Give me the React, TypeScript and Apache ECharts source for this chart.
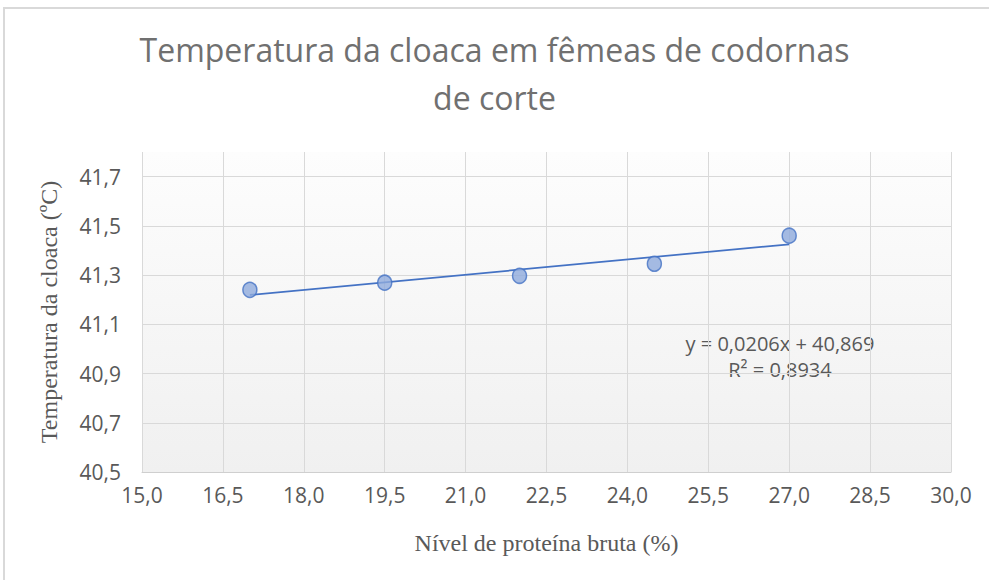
import React, { useEffect, useRef } from "react";
import * as echarts from "echarts";

const titleLines = ["Temperatura da cloaca em fêmeas de codornas", "de corte"];
const xName = "Nível de proteína bruta (%)";
const yName = "Temperatura da cloaca (ºC)";
const proteinLevels = [17.0, 19.5, 22.0, 24.5, 27.0];
const cloacaTemp = [41.24, 41.269, 41.297, 41.346, 41.46];
const trendSlope = 0.0206;
const trendIntercept = 40.869;
const equationText = ["y = 0,0206x + 40,869", "R² = 0,8934"];

const fmt = (v: number) => v.toFixed(1).replace(".", ",");

export default function App() {
  const ref = useRef<HTMLDivElement>(null);
  useEffect(() => {
    if (!ref.current) return;
    const chart = echarts.init(ref.current, null, { renderer: "svg" });
    const xMin = Math.min(...proteinLevels);
    const xMax = Math.max(...proteinLevels);
    const trend = [xMin, xMax].map((x) => [x, trendIntercept + trendSlope * x]);
    const gray = "#595959";
    chart.setOption({
      animation: false,
      backgroundColor: "#ffffff",
      title: {
        text: titleLines.join("\n"),
        left: "center",
        top: 20,
        textStyle: {
          fontFamily: "Open Sans",
          fontSize: 32,
          fontWeight: "normal",
          color: "#707070",
          lineHeight: 48,
        },
      },
      grid: {
        left: 142,
        right: 38,
        top: 152,
        bottom: 108,
        show: true,
        borderWidth: 0,
        backgroundColor: new echarts.graphic.LinearGradient(0, 0, 0, 1, [
          { offset: 0, color: "#fdfdfd" },
          { offset: 1, color: "#f0f0f0" },
        ]),
      },
      xAxis: {
        type: "value",
        min: 15,
        max: 30,
        interval: 1.5,
        name: xName,
        nameLocation: "middle",
        nameGap: 59,
        nameTextStyle: { fontFamily: "Liberation Serif", fontSize: 24, color: gray },
        axisLine: { show: true, lineStyle: { color: "#cfcfcf", width: 1 } },
        axisTick: { show: false },
        axisLabel: {
          formatter: fmt,
          margin: 12,
          fontFamily: "Open Sans",
          fontSize: 21,
          color: gray,
        },
        splitLine: { show: true, lineStyle: { color: "#d9d9d9", width: 1 } },
      },
      yAxis: {
        type: "value",
        min: 40.5,
        max: 41.8,
        interval: 0.2,
        name: yName,
        nameLocation: "middle",
        nameGap: 81,
        nameRotate: 90,
        nameTextStyle: { fontFamily: "Liberation Serif", fontSize: 24, color: gray },
        axisLine: { show: false },
        axisTick: { show: false },
        axisLabel: {
          formatter: fmt,
          margin: 21,
          fontFamily: "Open Sans",
          fontSize: 21,
          color: gray,
          showMaxLabel: false,
        },
        splitLine: {
          show: true,
          showMaxLine: false,
          lineStyle: { color: "#d9d9d9", width: 1 },
        },
      },
      series: [
        {
          type: "line",
          data: trend,
          symbol: "none",
          lineStyle: { color: "#4472c4", width: 1.75 },
          silent: true,
          z: 2,
        },
        {
          type: "scatter",
          data: proteinLevels.map((x, i) => [x, cloacaTemp[i]]),
          symbol: "circle",
          symbolSize: [14, 15],
          itemStyle: { color: "#8faadc", borderColor: "#4472c4", borderWidth: 1.5 },
          z: 3,
        },
      ],
      graphic: [
        {
          type: "rect",
          shape: { x: 4, y: 8, width: 1200, height: 800 },
          style: { fill: "none", stroke: "#d9d9d9", lineWidth: 2 },
          silent: true,
        },
        {
          type: "text",
          x: 780,
          y: 343,
          style: {
            text: equationText[0],
            fontFamily: "Open Sans",
            fontSize: 20,
            fill: gray,
            textAlign: "center",
            textVerticalAlign: "middle",
          },
        },
        {
          type: "text",
          x: 780,
          y: 369,
          style: {
            text: equationText[1],
            fontFamily: "Open Sans",
            fontSize: 20,
            fill: gray,
            textAlign: "center",
            textVerticalAlign: "middle",
          },
        },
      ],
    });
    return () => chart.dispose();
  }, []);
  return (
    <div
      ref={ref}
      style={{ position: "fixed", left: 0, top: 0, width: 989, height: 580 }}
    />
  );
}
